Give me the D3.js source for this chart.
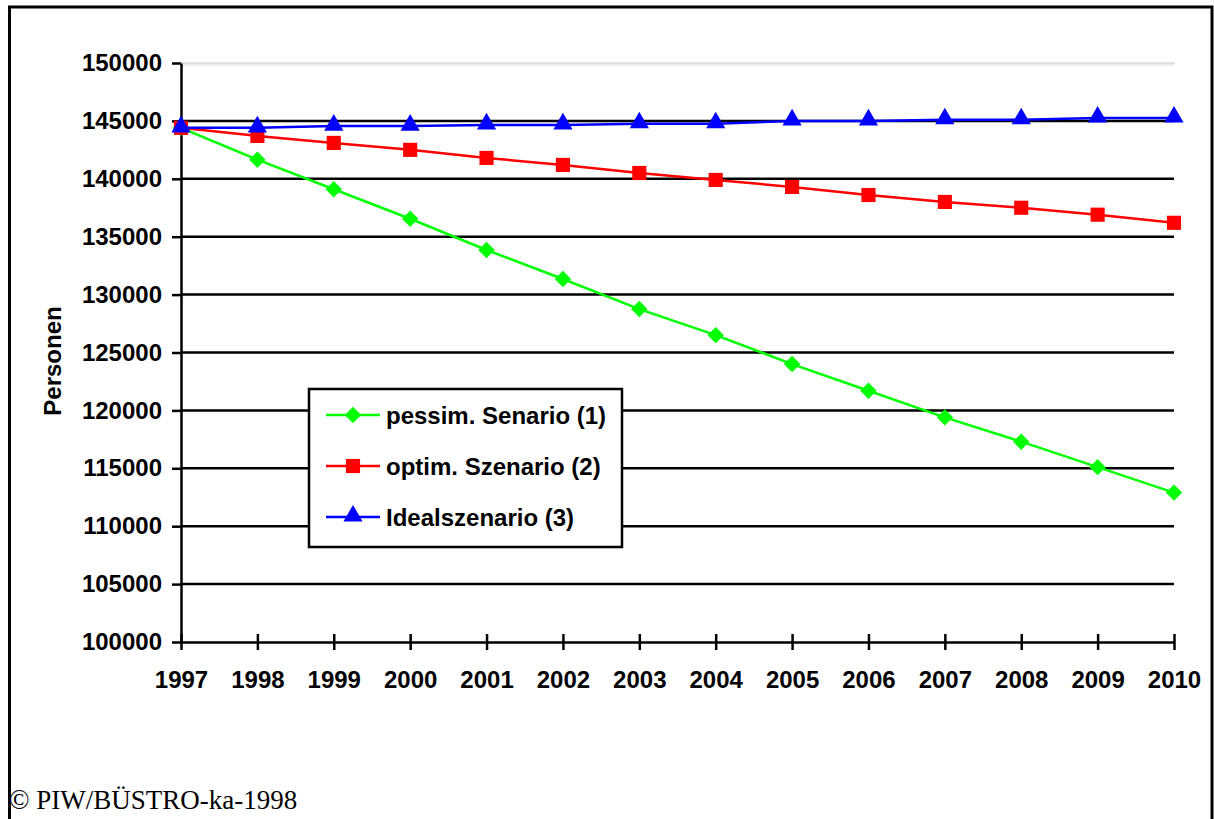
<!DOCTYPE html>
<html>
<head>
<meta charset="utf-8">
<script src="https://cdn.jsdelivr.net/npm/d3@7"></script>
<style>
  html, body { margin: 0; padding: 0; background: #fff; }
  svg { display: block; }
  text { font-family: Arial, "Liberation Sans", sans-serif; font-weight: bold; fill: #000; }
</style>
</head>
<body>
<svg id="chart" width="1214" height="819"></svg>
<script>
// Bevölkerungsszenarien 1997–2010 — three projections of persons.

const YEARS = [1997, 1998, 1999, 2000, 2001, 2002, 2003, 2004, 2005, 2006, 2007, 2008, 2009, 2010];
const PESSIM = [144400, 141650, 139100, 136550, 133850, 131350, 128750, 126500, 124000, 121700, 119400, 117300, 115100, 112900];
const OPTIM  = [144400, 143700, 143100, 142500, 141800, 141200, 140500, 139900, 139300, 138600, 138000, 137500, 136900, 136200];
const IDEAL  = [144400, 144400, 144550, 144550, 144650, 144650, 144750, 144750, 145000, 145000, 145100, 145100, 145250, 145250];
const Y_TICKS = [100000, 105000, 110000, 115000, 120000, 125000, 130000, 135000, 140000, 145000, 150000];
const SERIES_NAMES = ['pessim. Senario (1)', 'optim. Szenario (2)', 'Idealszenario (3)'];
const SERIES_COLORS = ['#00ff00', '#ff0000', '#0000ff'];
// diamond = square turned by 45°
const SERIES_SYMBOLS = [d3.symbolSquare, d3.symbolSquare, d3.symbolTriangle];
const SYMBOL_SIZES = [135, 200, 160];
const SYMBOL_ROT = [45, 0, 0];
const SYMBOL_DY = [0, 0, -1];

const svg = d3.select('#chart');
const m = { left: 181, right: 1174, top: 63, bottom: 642 };

// outer frame (open at the bottom, runs off the page)
svg.append('path')
  .attr('d', 'M9.5,840 V7 H1212 V840')
  .attr('fill', 'none').attr('stroke', '#000').attr('stroke-width', 3);

const x = d3.scaleLinear().domain([1997, 2010]).range([m.left, m.right]);
const y = d3.scaleLinear().domain([100000, 150000]).range([m.bottom, m.top]);

// gridlines
const grid = svg.append('g');
Y_TICKS.filter(v => v > 100000).forEach(v => {
  if (v === 150000) {
    grid.append('line').attr('x1', m.left).attr('x2', m.right + 1)
      .attr('y1', y(v)).attr('y2', y(v)).attr('stroke', '#c0c0c0').attr('stroke-width', 1);
    grid.append('line').attr('x1', m.left).attr('x2', m.right)
      .attr('y1', y(v) + 2).attr('y2', y(v) + 2).attr('stroke', '#dadada').attr('stroke-width', 1);
  } else {
    grid.append('line').attr('x1', m.left).attr('x2', m.right)
      .attr('y1', y(v)).attr('y2', y(v)).attr('stroke', '#000').attr('stroke-width', 2.5);
  }
});

// y axis
svg.append('g').attr('transform', `translate(${m.left},0)`)
  .call(d3.axisLeft(y).tickValues(Y_TICKS).tickSize(9).tickPadding(10).tickSizeOuter(0).tickFormat(d3.format('d')))
  .call(g => g.select('.domain').attr('stroke', '#000').attr('stroke-width', 2.5))
  .call(g => g.selectAll('.tick line').attr('stroke', '#000').attr('stroke-width', 2.5))
  .call(g => g.selectAll('text').attr('fill', '#000').style('font-size', '24px')
    .style('font-family', 'Arial, "Liberation Sans", sans-serif').style('font-weight', 'bold'));

// x axis, ticks crossing the axis line
svg.append('g').attr('transform', `translate(0,${m.bottom})`)
  .call(d3.axisBottom(x).tickValues(YEARS).tickSize(8).tickPadding(21).tickSizeOuter(0).tickFormat(d3.format('d')))
  .call(g => g.select('.domain').attr('stroke', '#000').attr('stroke-width', 2.5))
  .call(g => g.selectAll('.tick line').attr('y1', -8).attr('stroke', '#000').attr('stroke-width', 2.5))
  .call(g => g.selectAll('text').attr('fill', '#000').style('font-size', '24px')
    .style('font-family', 'Arial, "Liberation Sans", sans-serif').style('font-weight', 'bold'));

// axis title
svg.append('text')
  .attr('transform', 'translate(61,361) rotate(-90)')
  .attr('text-anchor', 'middle')
  .style('font-size', '24px')
  .text('Personen');

// series
const allSeries = [PESSIM, OPTIM, IDEAL];
const line = d3.line().x((d, i) => x(YEARS[i])).y(d => y(d));
allSeries.forEach((vals, s) => {
  const g = svg.append('g');
  g.append('path').datum(vals)
    .attr('fill', 'none').attr('stroke', SERIES_COLORS[s]).attr('stroke-width', 2.5).attr('d', line);
  const sym = d3.symbol().type(SERIES_SYMBOLS[s]).size(SYMBOL_SIZES[s]);
  g.selectAll('path.pt').data(vals).join('path').attr('class', 'pt')
    .attr('transform', (d, i) => `translate(${x(YEARS[i])},${y(d) + SYMBOL_DY[s]}) rotate(${SYMBOL_ROT[s]})`)
    .attr('d', sym)
    .attr('fill', SERIES_COLORS[s]);
});

// legend
const lg = svg.append('g').attr('transform', 'translate(309,389)');
lg.append('rect').attr('width', 313).attr('height', 158)
  .attr('fill', '#fff').attr('stroke', '#000').attr('stroke-width', 2.5);
SERIES_NAMES.forEach((name, s) => {
  const ry = 26 + s * 51;
  lg.append('line').attr('x1', 17).attr('x2', 71).attr('y1', ry).attr('y2', ry)
    .attr('stroke', SERIES_COLORS[s]).attr('stroke-width', 2.5);
  lg.append('path')
    .attr('transform', `translate(44,${ry + SYMBOL_DY[s]}) rotate(${SYMBOL_ROT[s]})`)
    .attr('d', d3.symbol().type(SERIES_SYMBOLS[s]).size(SYMBOL_SIZES[s])())
    .attr('fill', SERIES_COLORS[s]);
  lg.append('text').attr('x', 77).attr('y', ry).attr('dy', '0.36em')
    .style('font-size', '24px').text(name);
});

// source note
svg.append('text')
  .attr('x', 9).attr('y', 809)
  .style('font-family', '"Times New Roman", "Liberation Serif", serif')
  .style('font-weight', 'normal')
  .style('font-size', '27px')
  .text('© PIW/BÜSTRO-ka-1998');
</script>
</body>
</html>
